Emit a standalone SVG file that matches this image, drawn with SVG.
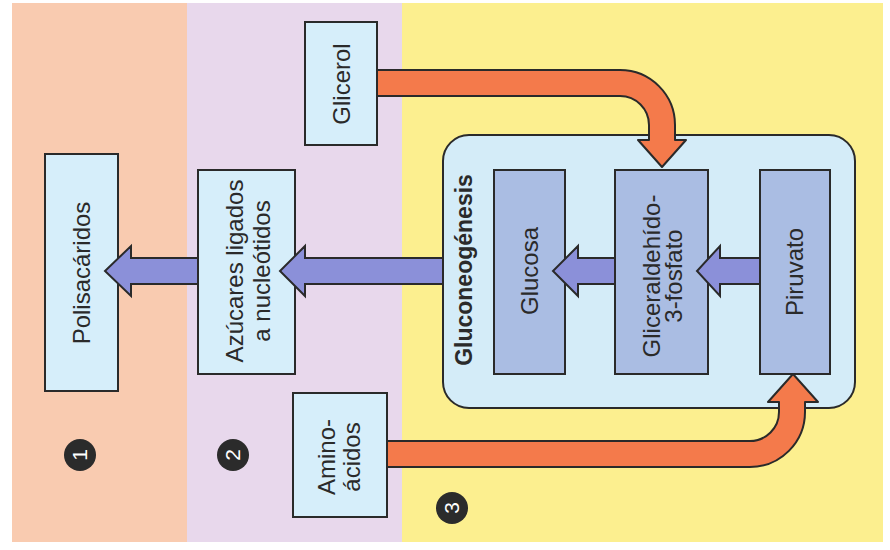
<svg xmlns="http://www.w3.org/2000/svg" width="890" height="550" viewBox="0 0 890 550">
<style>
  .box { fill: #d6eefa; stroke: #2a2a2a; stroke-width: 2; }
  .inner { fill: #aabde3; stroke: #2a2a2a; stroke-width: 2; }
  .big { fill: #d4ecf8; stroke: #2a2a2a; stroke-width: 2; }
  .lbl { font-family: "Liberation Sans", Arial, sans-serif; font-size: 24px; fill: #2a2a2a; text-anchor: middle; }
  .bold { font-weight: bold; font-size: 23px; }
  .blue { fill: #8b90d9; stroke: #2a2a2a; stroke-width: 2; stroke-linejoin: miter; }
  .orange { fill: #f47a4b; stroke: #2a2a2a; stroke-width: 2; stroke-linejoin: round; }
  .num { fill: #2b2b2b; }
  .numt { font-family: "Liberation Sans", Arial, sans-serif; font-size: 21px; fill: #ffffff; text-anchor: middle; }
</style>
<rect x="0" y="0" width="890" height="550" fill="#ffffff"/>
<g id="bands">
  <rect x="12" y="3" width="175" height="539" fill="#f9cbb0"/>
  <rect x="187" y="3" width="215" height="539" fill="#e8d8ec"/>
  <rect x="402" y="3" width="481" height="539" fill="#fcef8f"/>
</g>
<g id="gluconeogenesis">
  <rect class="big" x="443" y="135" width="412" height="273" rx="26" ry="26"/>
  <text class="lbl bold" transform="translate(472,270) rotate(-90)">Gluconeogénesis</text>
</g>
<g id="polisacaridos">
  <rect class="box" x="45" y="154" width="73" height="237"/>
  <text class="lbl" transform="translate(90,273) rotate(-90)">Polisacáridos</text>
</g>
<g id="azucares">
  <rect class="box" x="198" y="170" width="97" height="204"/>
  <text class="lbl" transform="translate(243,271) rotate(-90)">Azúcares ligados</text>
  <text class="lbl" transform="translate(270,271) rotate(-90)">a nucleótidos</text>
</g>
<g id="glicerol">
  <rect class="box" x="305" y="22" width="72" height="123"/>
  <text class="lbl" transform="translate(350,84) rotate(-90)">Glicerol</text>
</g>
<g id="aminoacidos">
  <rect class="box" x="293" y="393" width="94" height="124"/>
  <text class="lbl" transform="translate(335,457) rotate(-90)">Amino-</text>
  <text class="lbl" transform="translate(360,457) rotate(-90)">ácidos</text>
</g>
<g id="glucosa">
  <rect class="inner" x="494" y="170" width="71" height="204"/>
  <text class="lbl" transform="translate(538,271) rotate(-90)">Glucosa</text>
</g>
<g id="gliceraldehido">
  <rect class="inner" x="615" y="170" width="93" height="204"/>
  <text class="lbl" transform="translate(660,276) rotate(-90)">Gliceraldehído-</text>
  <text class="lbl" transform="translate(682,276) rotate(-90)">3-fosfato</text>
</g>
<g id="piruvato">
  <rect class="inner" x="760" y="170" width="70" height="204"/>
  <text class="lbl" transform="translate(803,272) rotate(-90)">Piruvato</text>
</g>
<g id="connectors">
  <polygon class="blue" points="198,258 131,258 131,246 105,271 131,296 131,284 198,284"/>
  <polygon class="blue" points="443,258 305,258 305,246 280,271 305,296 305,284 443,284"/>
  <polygon class="blue" points="615,258 578,258 578,246 553,271 578,296 578,284 615,284"/>
  <polygon class="blue" points="760,258 720,258 720,246 697,271 720,296 720,284 760,284"/>
  <path class="orange" d="M377,70 H620 A55,55 0 0 1 675,125 V140 H686 L662,167 L638,140 H649 V125 A29,29 0 0 0 620,96 H377 Z"/>
  <path class="orange" d="M387,467 H750 A55,55 0 0 0 805,412 V402 H818 L793,374 L768,402 H779 V412 A29,29 0 0 1 750,441 H387 Z"/>
</g>
<g id="numbers">
  <circle class="num" cx="80" cy="455" r="16"/>
  <text class="numt" transform="translate(87,455) rotate(-90)">1</text>
  <circle class="num" cx="233" cy="455" r="16"/>
  <text class="numt" transform="translate(240,455) rotate(-90)">2</text>
  <circle class="num" cx="452" cy="508" r="16"/>
  <text class="numt" transform="translate(459,508) rotate(-90)">3</text>
</g>
</svg>
